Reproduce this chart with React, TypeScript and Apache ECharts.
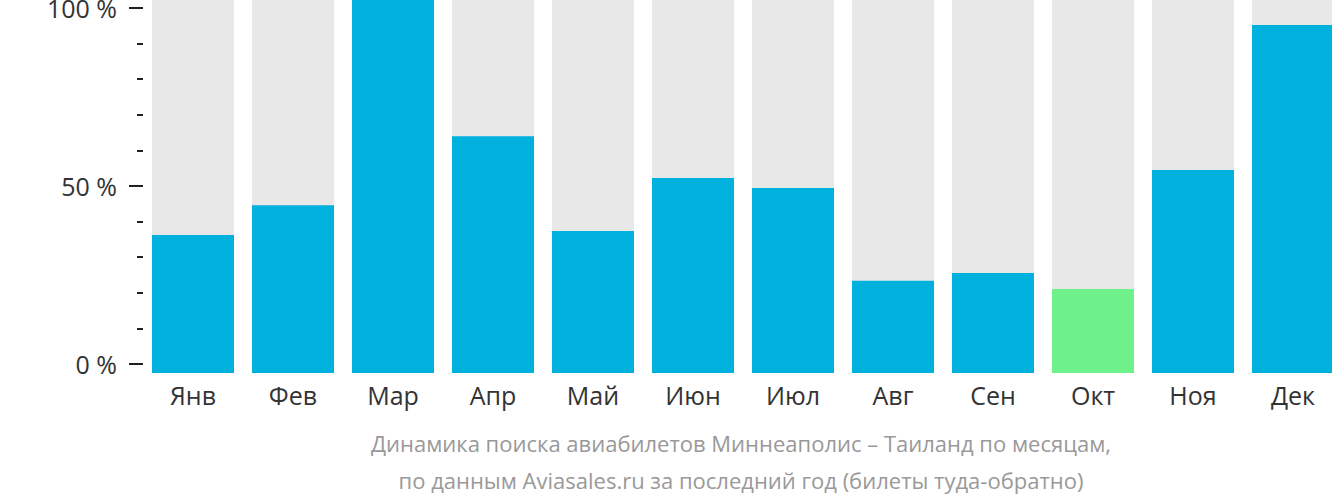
import React, { useEffect, useRef } from "react";
import * as echarts from "echarts";

const months = ["Янв", "Фев", "Мар", "Апр", "Май", "Июн", "Июл", "Авг", "Сен", "Окт", "Ноя", "Дек"];
const values = [37.0, 45.0, 100, 63.5, 38.1, 52.3, 49.6, 24.7, 26.8, 22.5, 54.4, 93.3];
const highlightIndex = 9;
const yTicks = [0, 50, 100];
const subtitleLines = [
  "Динамика поиска авиабилетов Миннеаполис – Таиланд по месяцам,",
  "по данным Aviasales.ru за последний год (билеты туда-обратно)",
];

const BLUE = "#00b1dd";
const GREEN = "#6ef18a";
const FONT = "'Open Sans', 'Noto Sans', sans-serif";

export default function App() {
  const ref = useRef<HTMLDivElement>(null);
  useEffect(() => {
    document.body.style.margin = "0";
    const chart = echarts.init(ref.current!, null, { renderer: "svg" });
    chart.setOption({
      animation: false,
      grid: [
        { left: 143, top: 8, width: 1200, height: 356, outerBoundsMode: "none", containLabel: false },
        { left: 143, top: 0, width: 1200, height: 373, outerBoundsMode: "none", containLabel: false },
      ],
      xAxis: [
        { gridIndex: 0, type: "category", data: months, show: false },
        {
          gridIndex: 1,
          type: "category",
          data: months,
          axisLine: { show: false },
          axisTick: { show: false },
          axisLabel: { color: "#333", fontSize: 25, fontFamily: FONT, margin: 9 },
        },
      ],
      yAxis: [
        {
          gridIndex: 0,
          type: "value",
          min: yTicks[0],
          max: yTicks[yTicks.length - 1],
          interval: 50,
          axisLine: { show: false },
          axisTick: { show: true, length: 14, lineStyle: { color: "#222", width: 2 } },
          minorTick: { show: true, splitNumber: 5, length: 6, lineStyle: { color: "#222", width: 2 } },
          splitLine: { show: false },
          axisLabel: { color: "#333", fontSize: 25, fontFamily: FONT, margin: 26, formatter: "{value} %" },
        },
        { gridIndex: 1, type: "value", min: 0, max: 100, show: false, splitLine: { show: false } },
      ],
      series: [
        {
          type: "bar",
          xAxisIndex: 1,
          yAxisIndex: 1,
          barWidth: 82,
          showBackground: true,
          backgroundStyle: { color: "#e8e8e8" },
          data: values.map((v, i) => ({
            value: v,
            itemStyle: { color: i === highlightIndex ? GREEN : BLUE },
          })),
        },
      ],
      graphic: subtitleLines.map((t, i) => ({
        type: "text",
        x: 741,
        y: 443 + i * 37,
        style: {
          text: t,
          fill: "#999",
          fontSize: 22,
          fontFamily: FONT,
          textAlign: "center",
          textVerticalAlign: "middle",
        },
      })),
    });
    return () => chart.dispose();
  }, []);
  return (
    <div style={{ width: 1332, height: 502, overflow: "hidden", position: "relative" }}>
      <div ref={ref} style={{ width: 1343, height: 502 }} />
    </div>
  );
}
